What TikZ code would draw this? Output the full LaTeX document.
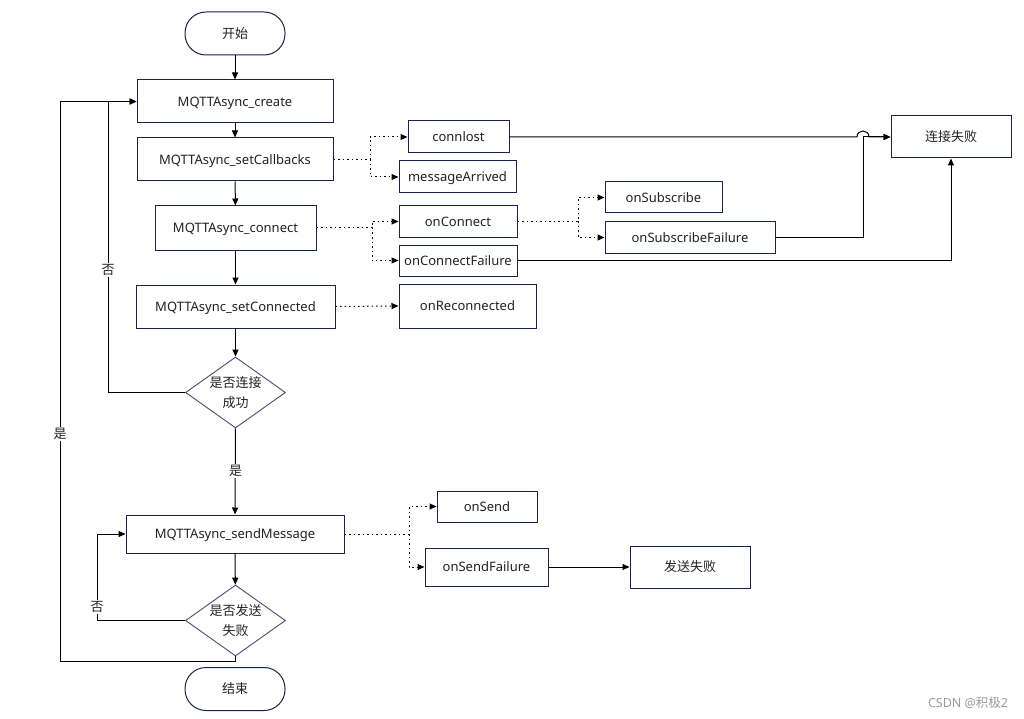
\documentclass[tikz,border=0pt]{standalone}
\usepackage{fontspec}
\setmainfont{Noto Sans}
\newfontfamily\cjk{Noto Sans CJK SC}
\usetikzlibrary{arrows.meta,shapes.geometric}
\definecolor{bx}{HTML}{1B2150}
\definecolor{txt}{HTML}{222222}
\begin{document}
\begin{tikzpicture}[x=1pt,y=-1pt,
  font=\fontsize{13}{16}\selectfont,
  box/.style={draw=bx, line width=1pt, inner sep=0pt, text=txt, text height=9.5pt, text depth=0pt},
  zh/.style={font=\cjk\fontsize{13}{20}\selectfont},
  term/.style={box, rounded corners=21pt, minimum width=100pt, minimum height=43pt, zh},
  dia/.style={diamond, draw=bx!80, line width=0.9pt, inner sep=0pt, minimum width=100pt, minimum height=71pt},
  arr/.style={draw=black, line width=1pt, -{Triangle[length=7pt,width=6pt]}},
  dotarr/.style={draw=black, line width=1pt, dash pattern=on 1.5pt off 3pt, -{Triangle[length=7pt,width=6pt]}},
  lbl/.style={fill=white, inner sep=1.5pt, zh, text=txt}
]
\useasboundingbox (0,0) rectangle (1024,719);
\fill[white] (0,0) rectangle (1024,719);

% main column
\node[term] (start) at (235,33.5) {开始};
\node[box, minimum width=196pt, minimum height=43pt] (create) at (235,101.5) {MQTTAsync\_create};
\node[box, minimum width=196pt, minimum height=43pt] (cb) at (235,159.5) {MQTTAsync\_setCallbacks};
\node[box, minimum width=161pt, minimum height=44pt] (conn) at (235.5,228) {MQTTAsync\_connect};
\node[box, minimum width=199pt, minimum height=43pt] (setc) at (235.5,306.5) {MQTTAsync\_setConnected};
\node[dia] (d1) at (235.5,392.5) {};
\node[zh, align=center, text=txt] (d1t) at (235.5,393) {是否连接\\成功};
\node[box, minimum width=218pt, minimum height=38pt] (send) at (235,534) {MQTTAsync\_sendMessage};
\node[dia] (d2) at (235.5,620.5) {};
\node[zh, align=center, text=txt] (d2t) at (235.5,621) {是否发送\\失败};
\node[term] (end) at (235,689) {结束};

% callbacks
\node[box, minimum width=101pt, minimum height=32pt] (connlost) at (458.5,137) {connlost};
\node[box, minimum width=117pt, minimum height=32pt] (msg) at (457.5,177) {messageArrived};
\node[box, minimum width=118pt, minimum height=31pt] (onc) at (458,221.5) {onConnect};
\node[box, minimum width=118pt, minimum height=31pt] (ocf) at (458,260.5) {onConnectFailure};
\node[box, minimum width=137pt, minimum height=44pt] (orc) at (467.5,306) {onReconnected};
\node[box, minimum width=117pt, minimum height=31pt] (osub) at (663.5,197.5) {onSubscribe};
\node[box, minimum width=170pt, minimum height=31pt] (osubf) at (690,237.5) {onSubscribeFailure};
\node[box, minimum width=120pt, minimum height=42pt, zh] (fail) at (951,137) {连接失败};
\node[box, minimum width=100pt, minimum height=31pt] (osend) at (487,506.5) {onSend};
\node[box, minimum width=123pt, minimum height=38pt] (osendf) at (486.5,567) {onSendFailure};
\node[box, minimum width=120pt, minimum height=42pt, zh] (sfail) at (690,567) {发送失败};

% main flow
\draw[arr] (start) -- (create);
\draw[arr] (create) -- (cb);
\draw[arr] (cb) -- (conn);
\draw[arr] (conn) -- (setc);
\draw[arr] (setc) -- (d1);
\draw[arr] (d1) -- (send);
\draw[arr] (send) -- (d2);
\draw[arr] (d1.west) -| (108,101.5) -- (create.west);
\draw[arr] (d2.west) -| (97,534) -- (send.west);
\draw[arr] (d2.south) -- (235.5,661) -| (60,101.5) -- (create.west);
\node[lbl] (no1) at (108,270) {否};
\node[lbl] (yes1) at (235.5,471) {是};
\node[lbl] (no2) at (97,607) {否};
\node[lbl] (yes2) at (60,434) {是};

% dotted callbacks
\coordinate (j1) at (370,159.5);
\draw[dotarr] (cb.east) -- (j1) |- (connlost.west);
\draw[dotarr] (j1) |- (msg.west);
\coordinate (j2) at (372,228);
\draw[dotarr] (conn.east) -- (j2) |- (onc.west);
\draw[dotarr] (j2) |- (ocf.west);
\draw[dotarr] (setc.east) -- (orc.west);
\coordinate (j3) at (578,221.5);
\draw[dotarr] (onc.east) -- (j3) |- (osub.west);
\draw[dotarr] (j3) |- (osubf.west);
\coordinate (j4) at (409,534);
\draw[dotarr] (send.east) -- (j4) |- (osend.west);
\draw[dotarr] (j4) |- (osendf.west);

% failures
\draw[arr] (connlost.east) -- (857,137) .. controls (857,129) and (869,129) .. (869,137) -- (fail.west);
\draw[arr] (osubf.east) -| (863,137) -- (fail.west);
\draw[arr] (ocf.east) -| (fail.south);
\draw[arr] (osendf.east) -- (sfail.west);

% watermark
\node[text=black!40, font=\fontsize{12.5}{14}\selectfont, anchor=center] (wm) at (968,703) {CSDN @{\cjk 积极}2};
\end{tikzpicture}
\end{document}
